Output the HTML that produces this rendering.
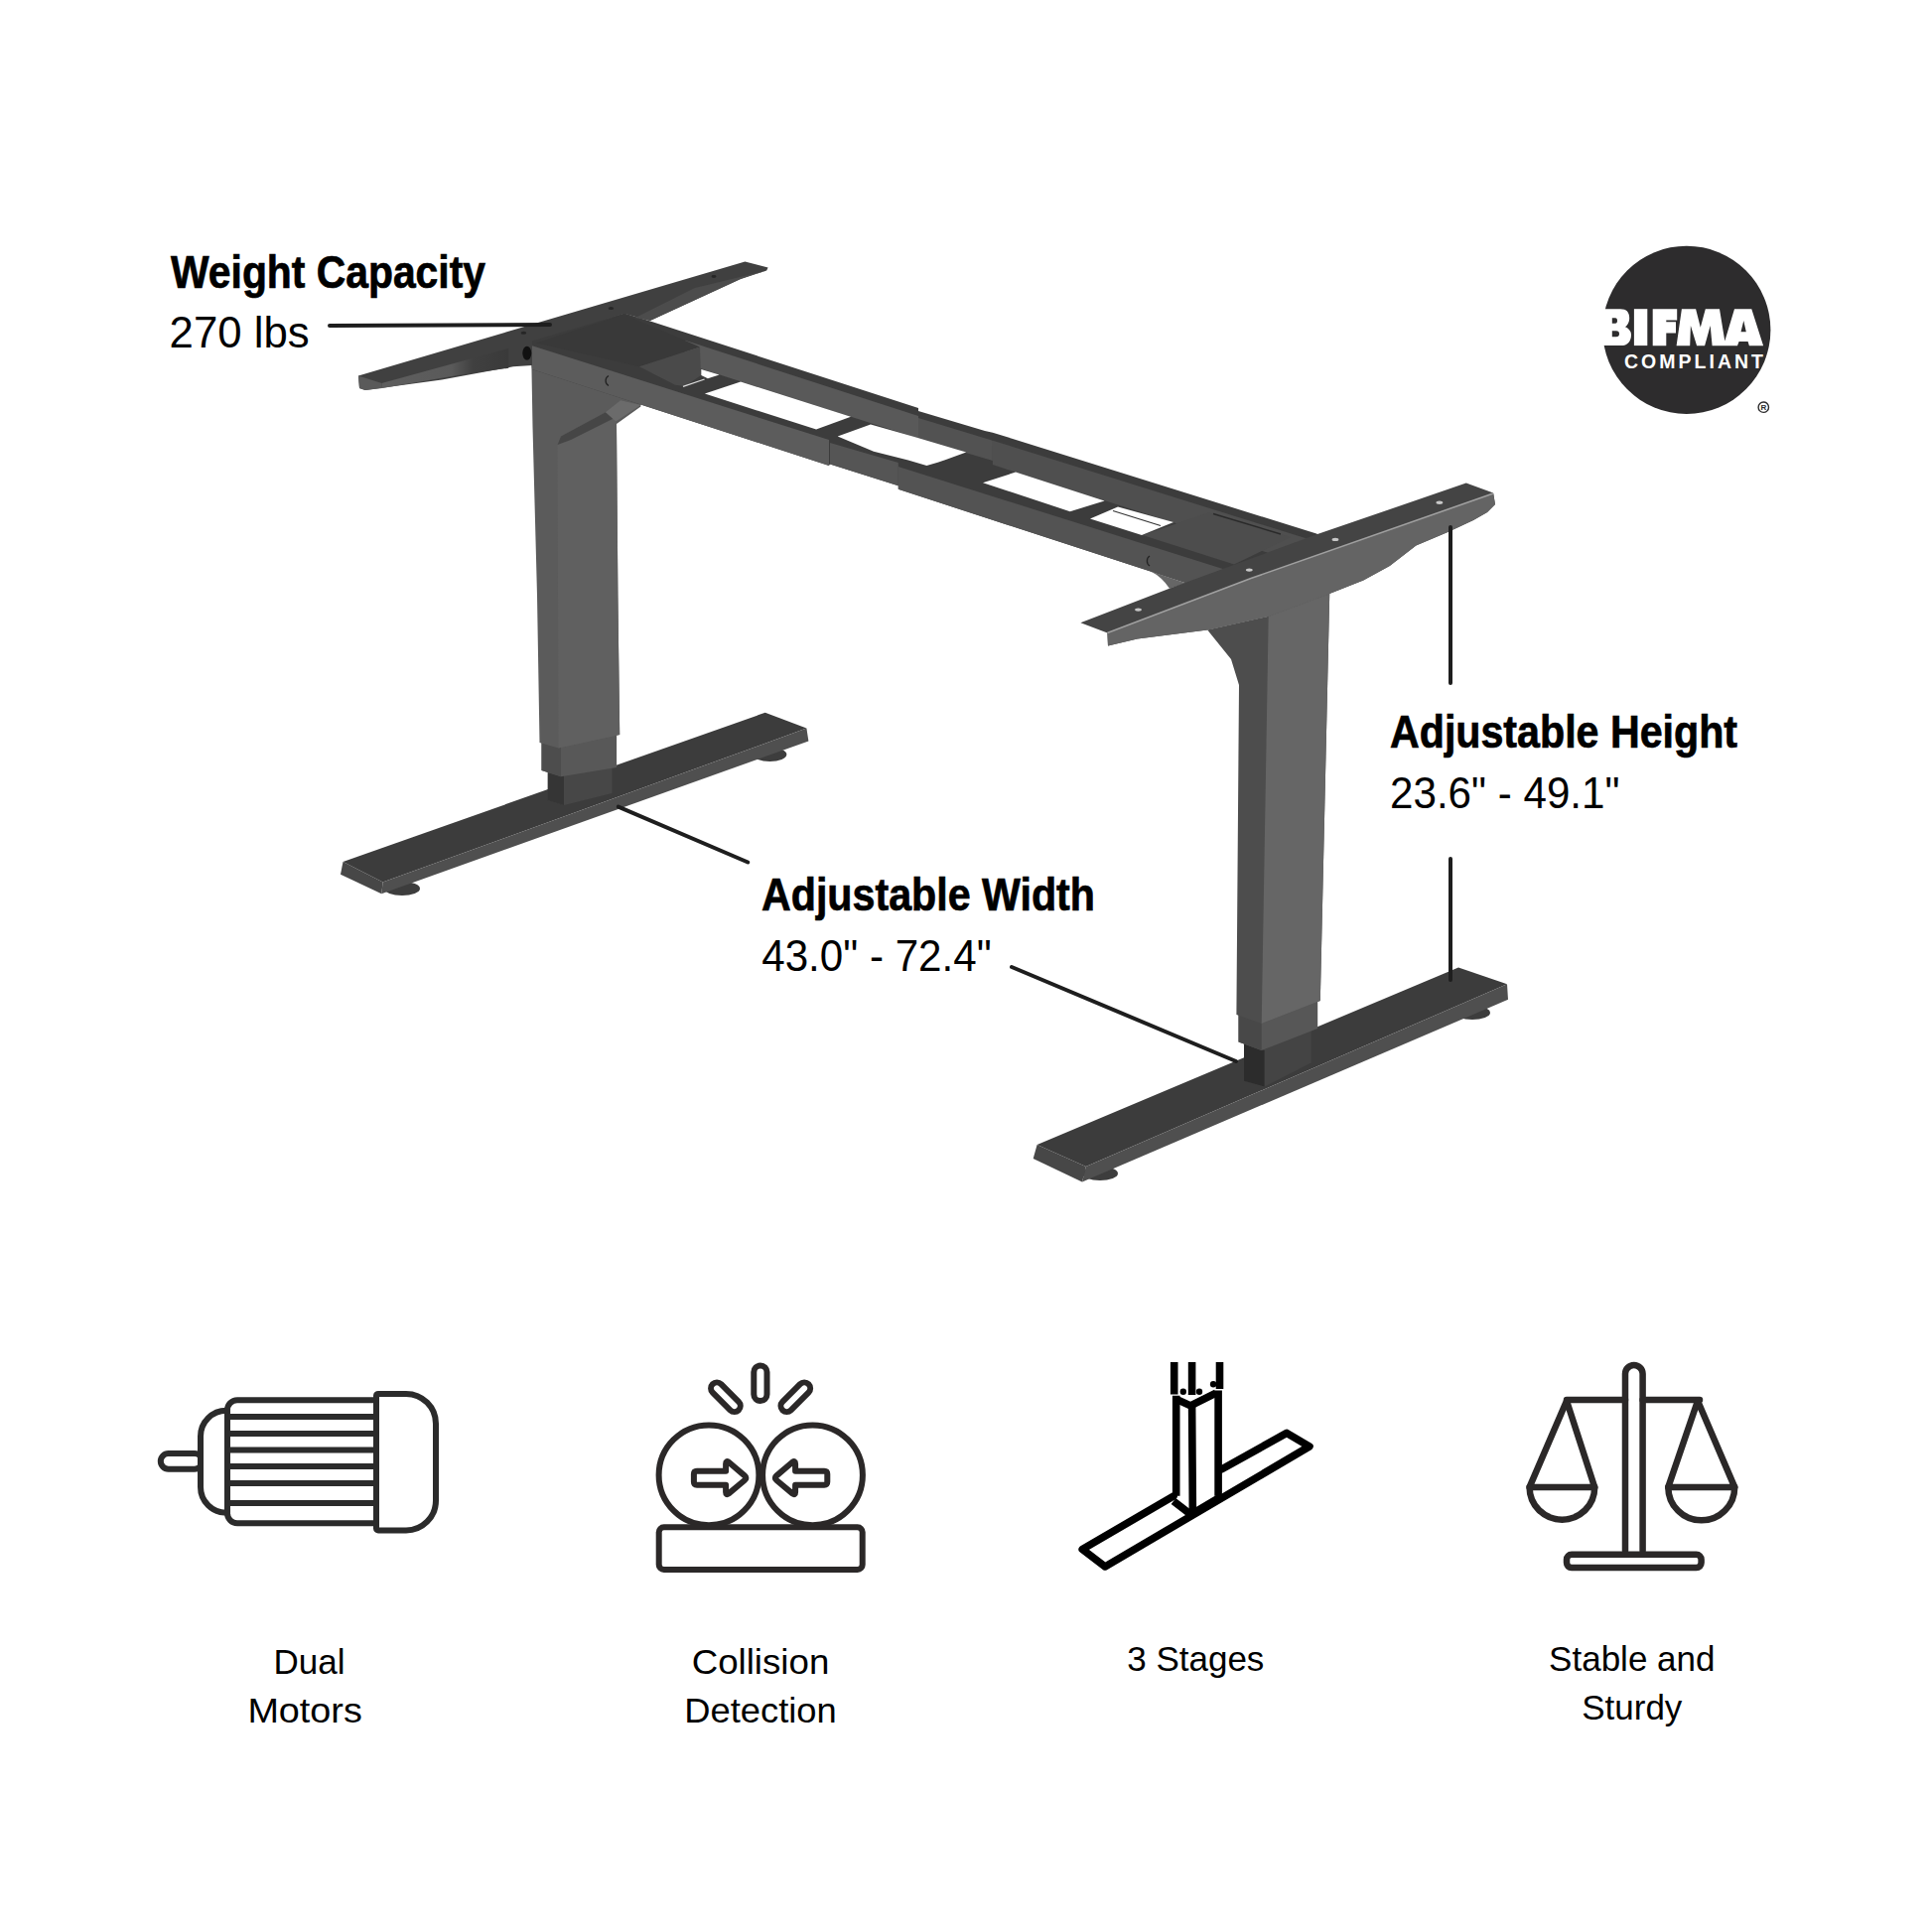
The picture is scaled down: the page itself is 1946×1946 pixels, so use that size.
<!DOCTYPE html>
<html><head><meta charset="utf-8"><title>Desk Frame</title>
<style>
html,body{margin:0;padding:0;background:#fff;}
body{width:1946px;height:1946px;overflow:hidden;}
svg{display:block;}
text{font-family:"Liberation Sans",sans-serif;}
</style></head>
<body>
<svg width="1946" height="1946" viewBox="0 0 1946 1946">
<rect width="1946" height="1946" fill="#fff"/>

<!-- DESK -->
<!--DESK_START-->
<g id="desk">
<!-- left foot -->
<g id="lfoot">
  <ellipse cx="405" cy="895" rx="18" ry="7" fill="#3d3d3d"/>
  <ellipse cx="775.4" cy="760" rx="17" ry="7" fill="#3d3d3d"/>
  <polygon points="345.5,868 770.7,717.8 812.4,733.6 385.6,888.6" fill="#3c3c3c"/>
  <polygon points="385.6,888.6 812.4,733.6 814.4,746.4 384.3,900.2" fill="#4f4f4f"/>
  <polygon points="345.5,868 385.6,888.6 384.3,900.2 343,880.8" fill="#474747"/>
</g>
<!-- right foot -->
<g id="rfoot">
  <ellipse cx="1108" cy="1182" rx="18" ry="7" fill="#3d3d3d"/>
  <ellipse cx="1483" cy="1020" rx="18" ry="7" fill="#3d3d3d"/>
  <polygon points="1044.6,1153 1469,974.5 1518,991.3 1093.8,1175" fill="#3c3c3c"/>
  <polygon points="1093.8,1175 1518,991.3 1519,1006.8 1090,1190.6" fill="#4f4f4f"/>
  <polygon points="1044.6,1153 1093.8,1175 1090,1190.6 1040.7,1167" fill="#474747"/>
</g>
<!-- left leg lower stages -->
<g id="lleg">
  <polygon points="551.8,772 616.5,764 616.5,799 568,811 551.8,806" fill="#474747"/>
  <polygon points="551.8,772 568,777 568,811 551.8,806" fill="#353535"/>
  <polygon points="545.5,745 621.1,737 621.1,773 565,782.3 545.5,776" fill="#585858"/>
  <polygon points="545.5,745 565,751 565,782.3 545.5,776" fill="#4d4d4d"/>
  <!-- upper column -->
  <polygon points="535.4,368 645.4,404 645.4,409.5 621,427 622.4,600 624.2,740 562.5,753.5 543.5,748 541,600 536.5,430" fill="#5b5b5b"/>
  <polygon points="561.5,447 565,439.5 610,415.3 620.2,424.6 621,428 622.4,600 624.2,740 562.5,753.5" fill="#606060"/>
  <polygon points="565,439.5 610,415.3 619,421 575,443 561.5,448" fill="#464646"/>
  <polygon points="610,415.3 625,403.2 645.4,408 620.2,424.6" fill="#6b6b6b"/>
</g>
<!-- right leg -->
<g id="rleg">
  <polygon points="1253,1050 1320.7,1036 1320.7,1070.6 1273.6,1094.5 1253,1088.7" fill="#444"/>
  <polygon points="1253,1050 1273.6,1058 1273.6,1094.5 1253,1088.7" fill="#2c2c2c"/>
  <polygon points="1247.5,1015 1327.2,1005 1327.2,1036 1270.7,1058 1247.5,1049.6" fill="#575757"/>
  <polygon points="1247.5,1015 1270.7,1025 1270.7,1058 1247.5,1049.6" fill="#484848"/>
  <polygon points="1216.2,634.5 1277.7,620.8 1339.2,598 1329.8,1008 1270.7,1031 1245.4,1022 1248,690 1240,664" fill="#4d4d4d"/>
  <polygon points="1277.7,620.8 1339.2,598 1329.8,1008 1270.7,1031" fill="#666"/>
</g>
<!-- beam -->
<g id="beam">
  <polygon points="533,342 629,315.5 656.6,324 925,411 925,414 992,434 999.9,435.7 1326,537.6 1340,545 1340,590 1300,600 1250,605.2 904.8,492.8 904.8,489.2 836,467.6 835,469.1 536,371.9" fill="#3c3c3c"/>
  <!-- back rail inner faces -->
  <polygon points="690,342.8 925,419 925,441.4 690,366.3" fill="#595959"/>
  <polygon points="925,421 999.9,443.7 999.9,464 925,442" fill="#525252"/>
  <polygon points="999.9,443.7 1326,545.6 1326,572.5 999.9,468.1" fill="#4f4f4f"/>
  <!-- left motor housing -->
  <polygon points="540.4,345.4 628.3,316.4 705,349.5 643.9,369.2" fill="#393939"/>
  <polygon points="643.9,369.2 705,349.5 706,378 690,389 680,387.7" fill="#4a4a4a"/>
  <!-- right motor housing -->
  <polygon points="1150.8,539 1217.9,516.3 1300,541 1243,568.5" fill="#4d4d4d"/>
  <line x1="1222" y1="517.5" x2="1290" y2="538" stroke="#2a2a2a" stroke-width="1.5"/>
  <!-- front rail front faces -->
  <polygon points="536,348.3 835,443.1 835,469.1 536,371.9" fill="#5c5c5c"/>
  <polygon points="836,445.9 904.8,465.9 904.8,489.2 836,467.6" fill="#555"/>
  <polygon points="904.8,470 1250,578.7 1250,605.2 904.8,492.8" fill="#535353"/>
  <!-- marks -->
  <path d="M613,378.5 A5,5.5 0 0 0 613,388.5" fill="none" stroke="#222" stroke-width="1.3"/>
  <path d="M1158,560 A4.5,5.5 0 0 0 1158,570" fill="none" stroke="#222" stroke-width="1.3"/>
  <!-- windows -->
  <g fill="#fff">
    <polygon points="706.3,372 724.5,377.5 712.9,381.2 706.3,378"/>
    <polygon points="709.9,396.5 746,384.5 857,419.8 822.1,432.6"/>
    <polygon points="843.7,439.5 876.9,427.5 921,440 973.2,455.4 952.7,462.9 944.6,465.7 933.4,469.1 914.8,463.5 880,454.8"/>
    <polygon points="990,486.3 1023,475.5 1112.6,504.5 1077.8,515.2"/>
    <polygon points="1098,522.5 1126,510.5 1182,526 1150,539"/>
  </g>
  <line x1="688" y1="389.4" x2="709.6" y2="382" stroke="#ddd" stroke-width="1.2"/>
  <line x1="1121" y1="514.5" x2="1169" y2="529.5" stroke="#333" stroke-width="1.2"/>
  <!-- right leg flare -->
  <path d="M1159,575.6 L1195,587.5 L1178,592.8 Q1170,581 1159,575.6 Z" fill="#666"/>
</g>
<!-- left plate -->
<g id="lplate">
  <polygon points="361,378.5 750.4,263.4 773.6,269.5 772.2,272.4 746,281 654.8,323 629,316 536,343.5 536,368 517,369.3 445,382.4 367.9,393 362,391" fill="#404040"/>
  <defs><linearGradient id="lbev" gradientUnits="userSpaceOnUse" x1="385" y1="0" x2="512" y2="0"><stop offset="0" stop-color="#5e5e5e"/><stop offset="0.55" stop-color="#5a5a5a"/><stop offset="0.72" stop-color="#404040"/><stop offset="1" stop-color="#3a3a3a"/></linearGradient></defs>
  <polygon points="384.5,386 512.3,350.8 512.3,370.8 463.9,377.4 385,391" fill="url(#lbev)"/>
  <ellipse cx="530.8" cy="355.7" rx="4.5" ry="7" fill="#111"/>
  <g fill="#262626"><ellipse cx="615.4" cy="310.5" rx="2.8" ry="1.5"/><ellipse cx="719" cy="278.5" rx="2.5" ry="1.4"/><ellipse cx="527.4" cy="335.2" rx="2.8" ry="1.5"/></g>
  <polygon points="772.2,272.4 746,281 654.8,323 640,320 700,290" fill="#4c4c4c"/>
  <polygon points="361,378.5 384.5,386 385,391 367.9,393 362,391" fill="#5a5a5a"/>
</g>
<!-- right plate -->
<g id="rplate">
  <polygon points="1088.4,627.2 1177.9,592.8 1326.3,538.3 1476.8,486.6 1504.1,496.5 1506,508 1498,516 1484,524 1459.4,535.4 1426.3,549.5 1399.8,570 1373.3,584.4 1339.2,598 1277.7,620.8 1216.2,634.5 1145.6,643.6 1116,650.5 1115.4,637.5" fill="#444"/>
  <polygon points="1115.4,637.5 1260,582.5 1504.1,497 1506,508 1498,516 1484,524 1459.4,535.4 1426.3,549.5 1399.8,570 1373.3,584.4 1339.2,598 1277.7,620.8 1216.2,634.5 1145.6,643.6 1116,650.5" fill="#646464"/>
  <polyline points="1115.4,637.5 1260,582.5 1504.1,497" fill="none" stroke="#a0a0a0" stroke-width="1.6"/>
  <g fill="#c8c8c8"><ellipse cx="1449.9" cy="506.2" rx="3.4" ry="1.7"/><ellipse cx="1345" cy="543.4" rx="3.4" ry="1.7"/><ellipse cx="1258.3" cy="574.1" rx="3.4" ry="1.7"/><ellipse cx="1146.5" cy="614.1" rx="3.4" ry="1.7"/></g>
</g>
</g>
<!--DESK_END-->

<!-- pointer lines -->
<g stroke="#1e1e1e" stroke-width="4" stroke-linecap="round" fill="none">
  <line x1="332" y1="328" x2="554" y2="327"/>
  <line x1="622.8" y1="812.6" x2="753.3" y2="868.5"/>
  <line x1="1019" y1="974" x2="1245" y2="1069"/>
  <line x1="1461" y1="531" x2="1461" y2="688"/>
  <line x1="1461" y1="865" x2="1461" y2="987"/>
</g>

<!-- Labels -->
<g fill="#000">
  <text x="172" y="290" font-size="46" font-weight="bold" stroke="#000" stroke-width="0.7" textLength="317" lengthAdjust="spacingAndGlyphs">Weight Capacity</text>
  <text x="170.6" y="350" font-size="45" textLength="141" lengthAdjust="spacingAndGlyphs">270 lbs</text>
  <text x="1400" y="753" font-size="46" font-weight="bold" stroke="#000" stroke-width="0.7" textLength="350" lengthAdjust="spacingAndGlyphs">Adjustable Height</text>
  <text x="1400" y="814" font-size="45" textLength="231.5" lengthAdjust="spacingAndGlyphs">23.6" - 49.1"</text>
  <text x="767" y="917" font-size="46" font-weight="bold" stroke="#000" stroke-width="0.7" textLength="336" lengthAdjust="spacingAndGlyphs">Adjustable Width</text>
  <text x="767.2" y="978" font-size="45" textLength="231.5" lengthAdjust="spacingAndGlyphs">43.0" - 72.4"</text>
</g>

<!-- BIFMA -->
<g>
  <circle cx="1698.8" cy="332.3" r="84.6" fill="#2d2c2d"/>
  <path fill="#fff" fill-rule="evenodd" d="M1608,311.2 H1632 C1638.5,311.2 1641.2,314.5 1641.2,320.2 C1641.2,325 1639,327.8 1636.9,329.3 C1640.5,330.8 1643,333.5 1643,337.2 C1643,344 1639,348.1 1633,348.1 H1608 Z M1623.8,320.2 H1627 C1628.5,320.2 1629,321.5 1629,323 C1629,324.5 1628.5,325.7 1627,325.7 H1623.8 Z M1623.8,333.3 H1628 C1630,333.3 1631,334.5 1631,336.2 C1631,338 1630,339.2 1628,339.2 H1623.8 Z"/>
  <rect x="1645.9" y="311.2" width="13.4" height="36.9" fill="#fff"/>
  <path fill="#fff" d="M1664.7,311.2 H1689.2 V322.4 H1678.3 V324.3 H1688 V335.4 H1678.3 V348.2 H1664.7 Z"/>
  <path fill="#fff" fill-rule="evenodd" d="M1688.6,348.2 L1693.9,311.2 L1708.1,311.2 L1712.8,329.8 L1717.8,311.2 L1732,311.2 L1737.3,343.5 L1747,311.2 L1764.3,311.2 L1776.1,348.2 L1761.9,348.2 L1760.6,344.1 L1751.6,344.1 L1750,348.2 L1724.6,348.2 L1722.7,328 L1717.1,348.2 L1709.1,348.2 L1702.9,328 L1702.2,348.2 Z M1756.3,323 L1753.5,334.2 L1758.8,334.2 Z"/>
  <text x="1636" y="371" font-size="19.5" font-weight="bold" fill="#fff" textLength="140" lengthAdjust="spacing">COMPLIANT</text>
  <circle cx="1776.3" cy="410.2" r="5.2" fill="none" stroke="#2d2c2d" stroke-width="1.4"/>
  <text x="1776.3" y="413.1" font-size="8" font-weight="bold" text-anchor="middle" fill="#2d2c2d">R</text>
</g>

<!-- ICONS -->
<g fill="none" stroke="#2b2b2b" stroke-width="6" stroke-linejoin="round" stroke-linecap="round">
  <!-- motor -->
  <rect x="161.8" y="1464" width="42" height="15.7" rx="7.85"/>
  <path d="M229,1420.7 H228 A26,26 0 0 0 202,1446.7 V1497.8 A26,26 0 0 0 228,1523.8 H229" fill="#fff"/>
  <path d="M379,1410.3 H239 A10,10 0 0 0 229,1420.3 V1524.2 A10,10 0 0 0 239,1534.2 H379 Z" fill="#fff"/>
  <path d="M229,1427 H379 M229,1444 H379 M229,1460.6 H379 M229,1477.1 H379 M229,1494 H379 M229,1514 H379" stroke-linecap="butt"/>
  <path d="M381,1403.9 H409 A30,30 0 0 1 439,1433.9 V1511.5 A30,30 0 0 1 409,1541.5 H381 A2,2 0 0 1 379,1539.5 V1405.9 A2,2 0 0 1 381,1403.9 Z" fill="#fff"/>
</g>
<g fill="none" stroke="#2b2828" stroke-width="6" stroke-linejoin="round" stroke-linecap="round">
  <!-- collision -->
  <circle cx="714" cy="1485.8" r="50.4"/>
  <circle cx="818.5" cy="1485.8" r="50.4"/>
  <rect x="663.7" y="1538.3" width="205" height="42.6" rx="5" fill="#fff"/>
  <path d="M702,1481.7 H731.1 V1474.5 Q731.1,1470.8 734,1472.8 L750,1486.4 Q752.8,1488.7 750,1491 L734,1504.4 Q731.1,1506.6 731.1,1503 V1495.7 H702 Q698.9,1495.7 698.9,1492.6 V1484.8 Q698.9,1481.7 702,1481.7 Z"/>
  <path d="M830.2,1481.7 H801.1 V1474.5 Q801.1,1470.8 798.2,1472.8 L782.2,1486.4 Q779.4,1488.7 782.2,1491.0 L798.2,1504.4 Q801.1,1506.6 801.1,1503.0 V1495.7 H830.2 Q833.3,1495.7 833.3,1492.6 V1484.8 Q833.3,1481.7 830.2,1481.7 Z"/>
  <rect x="759.3" y="1375.5" width="13.2" height="35.6" rx="6.6"/>
  <rect x="-18.5" y="-6" width="37" height="12" rx="6" transform="translate(730.9 1407.25) rotate(45)"/>
  <rect x="-18.5" y="-6" width="37" height="12" rx="6" transform="translate(801.3 1407.25) rotate(-45)"/>
</g>
<g fill="none" stroke="#000" stroke-width="7.6" stroke-linejoin="round">
  <!-- 3 stages -->
  <path d="M1182.7,1372 V1404.4 M1200.6,1372 V1405 M1228.5,1372 V1399"/>
  <path d="M1184.7,1405.8 V1506.7 M1200.6,1413.8 L1201.4,1528 M1227.1,1400.4 V1506.7"/>
  <path d="M1184.4,1409.1 L1199.2,1415.9 L1224.8,1403.1"/>
  <g fill="#000" stroke="none"><circle cx="1191.8" cy="1401.7" r="3.2"/><circle cx="1208" cy="1401.7" r="3.2"/><circle cx="1222.1" cy="1394.3" r="3.2"/></g>
  <path d="M1230.8,1479.8 L1296.1,1443.4 L1319,1456.9 L1113.1,1578 L1090.2,1560.5 L1182,1507" stroke-linecap="round"/>
  <path d="M1182,1512 L1199.5,1525.5 L1229,1508"/>
</g>
<g fill="none" stroke="#2b2828" stroke-width="6.5" stroke-linejoin="round" stroke-linecap="round">
  <!-- scales -->
  <path d="M1637,1562 V1383.8 A8.8,8.8 0 0 1 1654.6,1383.8 V1562"/>
  <path d="M1578,1410 H1637 M1654.6,1410 H1712"/>
  <path d="M1540.6,1497.9 L1578,1411 L1606.2,1497.9 Z"/>
  <path d="M1540.6,1497.9 A32.8,32.8 0 0 0 1606.2,1497.9"/>
  <path d="M1680.3,1497.9 L1710,1411 L1747.2,1497.9 Z"/>
  <path d="M1680.3,1497.9 A33.4,33.4 0 0 0 1747.2,1497.9"/>
  <rect x="1578" y="1565.8" width="135.6" height="13.3" rx="5" fill="#fff"/>
</g>

<!-- icon captions -->
<g fill="#000" font-size="35" text-anchor="middle">
  <text x="311.5" y="1686">Dual</text>
  <text x="307.1" y="1735" textLength="115.4" lengthAdjust="spacingAndGlyphs">Motors</text>
  <text x="766" y="1686" textLength="138.6" lengthAdjust="spacingAndGlyphs">Collision</text>
  <text x="766" y="1735" textLength="153.5" lengthAdjust="spacingAndGlyphs">Detection</text>
  <text x="1204.3" y="1682.5">3 Stages</text>
  <text x="1643.8" y="1682.5">Stable and</text>
  <text x="1643.8" y="1731.5">Sturdy</text>
</g>
</svg>
</body></html>
